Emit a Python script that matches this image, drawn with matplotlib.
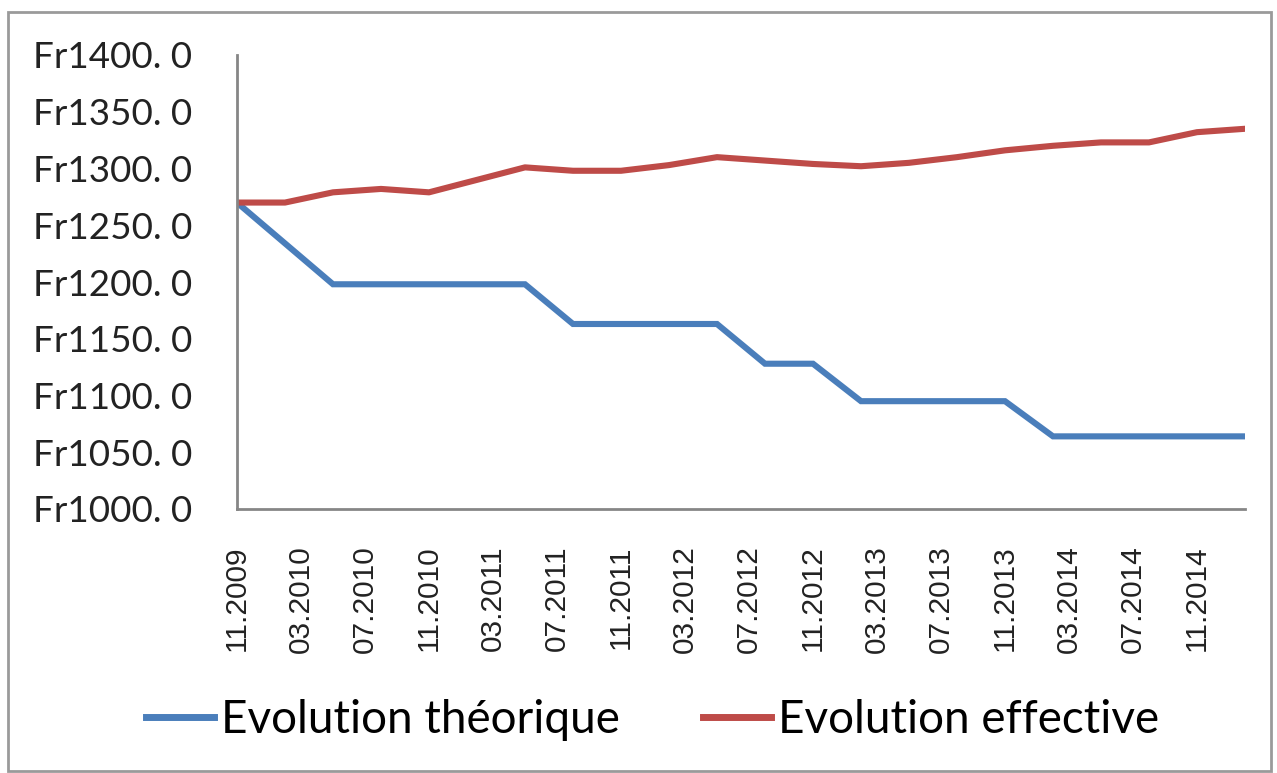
import matplotlib
matplotlib.use("Agg")
import matplotlib.pyplot as plt
from matplotlib.patches import Rectangle

# donnees (un point par trimestre)
mois = ["11.2009", "02.2010", "05.2010", "08.2010", "11.2010", "02.2011",
        "05.2011", "08.2011", "11.2011", "02.2012", "05.2012", "08.2012",
        "11.2012", "02.2013", "05.2013", "08.2013", "11.2013", "02.2014",
        "05.2014", "08.2014", "11.2014", "02.2015"]
theorique = [1270, 1234, 1198, 1198, 1198, 1198, 1198, 1163, 1163, 1163, 1163,
             1128, 1128, 1095, 1095, 1095, 1095, 1064, 1064, 1064, 1064, 1064]
effective = [1270, 1270, 1279, 1282, 1279, 1290, 1301, 1298, 1298, 1303, 1310,
             1307, 1304, 1302, 1305, 1310, 1316, 1320, 1323, 1323, 1332, 1335]
yticks = [1000, 1050, 1100, 1150, 1200, 1250, 1300, 1350, 1400]


def num_mois(s, debut="11.2009"):
    m, a = s.split(".")
    m0, a0 = debut.split(".")
    return (int(a) - int(a0)) * 12 + int(m) - int(m0)


x = [num_mois(s) for s in mois]
# etiquettes tous les 4 mois comme dans excel
xt = list(range(0, x[-1] + 1, 4))
xlab = []
for k in xt:
    m = (10 + k) % 12 + 1
    a = 2009 + (10 + k) // 12
    xlab.append("%02d.%d" % (m, a))

fig = plt.figure(figsize=(12.77, 7.73), dpi=100)
fig.patch.set_facecolor("white")
fig.patches.append(Rectangle((8 / 1277, 0.002), 1263 / 1277, 1 - 12 / 773 - 0.002,
                             transform=fig.transFigure, fill=False,
                             edgecolor="#9a9a9a", linewidth=2))

ax = fig.add_axes([237 / 1277, 1 - 509 / 773, (1245 - 237) / 1277, (509 - 55) / 773])
ax.plot(x, theorique, color="#4A7EBB", lw=4.4, solid_joinstyle="miter",
        label="Evolution théorique")
ax.plot(x, effective, color="#BE4B48", lw=4.4, label="Evolution effective")

ax.set_xlim(0, x[-1])
ax.set_ylim(1000, 1400)
ax.set_yticks(yticks)
ax.set_yticklabels(["Fr%d. 0" % v for v in yticks], family="Lato", fontsize=26.5,
                   color="#222222")
ax.set_xticks(xt)
ax.set_xticklabels(xlab, rotation=90, family="Liberation Sans", fontsize=21.5,
                   color="#222222")
ax.tick_params(axis="both", length=0)
ax.tick_params(axis="y", pad=32)
ax.tick_params(axis="x", pad=26)

for s in ["top", "right"]:
    ax.spines[s].set_visible(False)
for s in ["left", "bottom"]:
    ax.spines[s].set_color("#868686")
    ax.spines[s].set_linewidth(2)

leg = fig.legend(loc="center", bbox_to_anchor=(0.511, 0.068), ncol=2,
                 frameon=False, prop={"family": "Lato", "size": 33},
                 handlelength=1.5, handletextpad=0.15, columnspacing=1.8)
for l in leg.get_lines():
    l.set_linewidth(5)

fig.savefig("out.png", dpi=100, facecolor="white")
